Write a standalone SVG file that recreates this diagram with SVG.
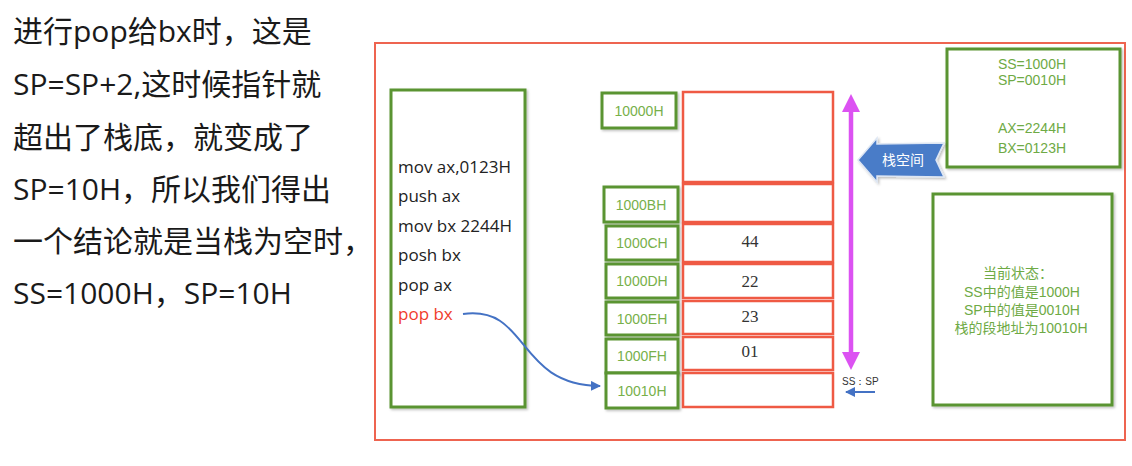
<svg xmlns="http://www.w3.org/2000/svg" width="1132" height="466" viewBox="0 0 1132 466">
<defs>
<style>
.t{font-family:"Open Sans","Noto Sans CJK SC",sans-serif;font-size:30px;fill:#1a1a1a}
.code{font-family:"Open Sans","Noto Sans CJK SC",sans-serif;font-size:17px;fill:#222}
.addr{font-family:"Liberation Sans",Arial,sans-serif;font-size:14px;fill:#77b04a;text-anchor:middle}
.val{font-family:"Liberation Serif","Times New Roman",serif;font-size:17px;fill:#333;text-anchor:middle}
.gbox{fill:#fff;stroke:#5a9431;stroke-width:3}
.cell{fill:#fff;stroke:#ef5a44;stroke-width:2.5}
.gt{font-family:"Liberation Sans","Noto Sans CJK SC",sans-serif;font-size:14px;fill:#6eaa45;text-anchor:middle}
</style>
<filter id="sh" x="-10%" y="-10%" width="130%" height="130%">
<feDropShadow dx="1.5" dy="1.5" stdDeviation="1" flood-color="#000" flood-opacity="0.25"/>
</filter>
<marker id="ab" viewBox="0 0 10 10" refX="9" refY="5" markerWidth="5" markerHeight="5" orient="auto">
<path d="M0,0 L10,5 L0,10 z" fill="#4472c4"/>
</marker>
</defs>
<rect width="1132" height="466" fill="#fff"/>

<g id="caption">
<text class="t" x="13" y="42">进行pop给bx时，这是</text>
<text class="t" x="13" y="95">SP=SP+2,这时候指针就</text>
<text class="t" x="13" y="148">超出了栈底，就变成了</text>
<text class="t" x="13" y="200">SP=10H，所以我们得出</text>
<text class="t" x="13" y="252">一个结论就是当栈为空时，</text>
<text class="t" x="13" y="304">SS=1000H，SP=10H</text>
</g>

<g id="frame">
<rect x="375" y="43" width="750" height="397" fill="none" stroke="#ee6450" stroke-width="2"/>
</g>

<g id="code">
<rect class="gbox" x="391" y="90" width="134" height="317" filter="url(#sh)"/>
<text class="code" x="398" y="173">mov ax,0123H</text>
<text class="code" x="398" y="202.4">push ax</text>
<text class="code" x="398" y="231.8">mov bx 2244H</text>
<text class="code" x="398" y="261.2">posh bx</text>
<text class="code" x="398" y="290.6">pop ax</text>
<text class="code" x="398" y="320" fill="#f03c2c" style="fill:#f03c2c">pop bx</text>
</g>

<g id="addresses">
<g id="a10000"><rect class="gbox" x="602" y="93" width="74" height="35" filter="url(#sh)"/><text class="addr" x="639" y="115.5">10000H</text></g>
<g id="a1000B"><rect class="gbox" x="604" y="187" width="74" height="35" filter="url(#sh)"/><text class="addr" x="641" y="209.5">1000BH</text></g>
<g id="a1000C"><rect class="gbox" x="606" y="226" width="72" height="34" filter="url(#sh)"/><text class="addr" x="642" y="248">1000CH</text></g>
<g id="a1000D"><rect class="gbox" x="606" y="264" width="72" height="34" filter="url(#sh)"/><text class="addr" x="642" y="286">1000DH</text></g>
<g id="a1000E"><rect class="gbox" x="606" y="302" width="72" height="33" filter="url(#sh)"/><text class="addr" x="642" y="323.5">1000EH</text></g>
<g id="a1000F"><rect class="gbox" x="606" y="339" width="72" height="34" filter="url(#sh)"/><text class="addr" x="642" y="361">1000FH</text></g>
<g id="a10010"><rect class="gbox" x="606" y="373" width="72" height="35" filter="url(#sh)"/><text class="addr" x="642" y="395.5">10010H</text></g>
</g>

<g id="stack">
<g id="c0"><rect class="cell" x="683" y="92" width="150" height="90"/></g>
<g id="c1"><rect class="cell" x="683" y="184" width="150" height="38"/></g>
<g id="c2"><rect class="cell" x="683" y="224" width="150" height="38"/><text class="val" x="750" y="247">44</text></g>
<g id="c3"><rect class="cell" x="683" y="264" width="150" height="34"/><text class="val" x="750" y="287">22</text></g>
<g id="c4"><rect class="cell" x="683" y="301" width="150" height="33"/><text class="val" x="750" y="322">23</text></g>
<g id="c5"><rect class="cell" x="683" y="337" width="150" height="33"/><text class="val" x="750" y="357">01</text></g>
<g id="c6"><rect class="cell" x="683" y="373" width="150" height="34"/></g>
</g>

<g id="registers">
<rect class="gbox" x="947" y="49" width="173" height="118" filter="url(#sh)"/>
<text class="gt" x="1032" y="69">SS=1000H</text>
<text class="gt" x="1032" y="85">SP=0010H</text>
<text class="gt" x="1032" y="133">AX=2244H</text>
<text class="gt" x="1032" y="153">BX=0123H</text>
</g>

<g id="status">
<rect class="gbox" x="933" y="194" width="179" height="211" filter="url(#sh)"/>
<text class="gt" x="1018" y="278">当前状态：</text>
<text class="gt" x="1022" y="297">SS中的值是1000H</text>
<text class="gt" x="1022" y="315">SP中的值是0010H</text>
<text class="gt" x="1021" y="333">栈的段地址为10010H</text>
</g>

<g id="stackspace">
<path d="M858,160 L877,138 L877,144 L944,143 L936,160 L944,177 L877,176 L877,182 Z" fill="#4a7bc8" stroke="#dde6f3" stroke-width="1.5" filter="url(#sh)"/>
<text x="903" y="165" font-family="Noto Sans CJK SC,sans-serif" font-size="14" fill="#fff" text-anchor="middle">栈空间</text>
</g>

<g id="connectors">
<line x1="851" y1="108" x2="851" y2="356" stroke="#dc52f2" stroke-width="4.5"/>
<path d="M851,94 L860,112 L842,112 Z" fill="#dc52f2"/>
<path d="M851,370 L860,352 L842,352 Z" fill="#dc52f2"/>
<path d="M463,314 C530,305 515,385 600,386" fill="none" stroke="#4472c4" stroke-width="2" marker-end="url(#ab)"/>
<line x1="875" y1="392" x2="846" y2="392" stroke="#4472c4" stroke-width="2" marker-end="url(#ab)"/>
<text x="842" y="385" font-family="Liberation Sans,Arial,sans-serif" font-size="10" fill="#333">SS：SP</text>
</g>
</svg>
